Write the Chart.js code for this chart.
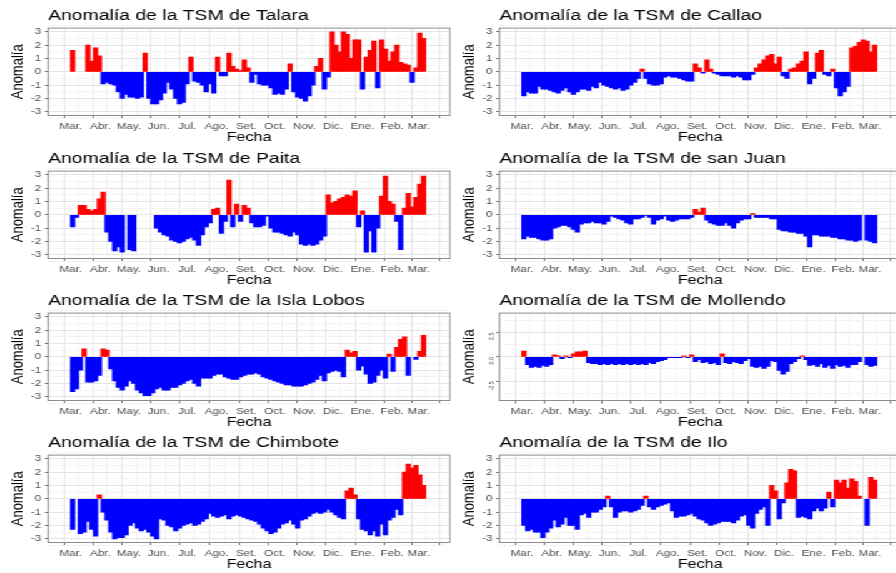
<!DOCTYPE html>
<html lang="es">
<head>
<meta charset="utf-8">
<title>Anomalía de la TSM</title>
<script src="https://cdn.jsdelivr.net/npm/chart.js@4.4.1/dist/chart.umd.min.js"></script>
<style>
    html, body { margin: 0; padding: 0; background: #fff; overflow: hidden; }
    body { width: 896px; height: 573px; position: relative; }
    /* la figura original viene estirada a lo ancho */
    #lienzo { position: absolute; left: 0; top: 0; width: 722px; height: 573px; transform: scaleX(1.25); transform-origin: 0 0; }
    .panel { position: absolute; width: 361px; height: 143px; }
</style>
</head>
<body>
<div id="lienzo"></div>
<script>
var fuente = "'Liberation Sans', Arial, Helvetica, sans-serif";
var rojo = '#ff0000';
var azul = '#0000ff';

// Eje X: días desde el 1 de marzo, un dato cada 4 días
var diasPorDato = 4;
var meses = ['Mar.', 'Abr.', 'May.', 'Jun.', 'Jul.', 'Ago.', 'Set.', 'Oct.', 'Nov.', 'Dic.', 'Ene.', 'Feb.', 'Mar.'];
var inicioMes = [0, 31, 61, 92, 122, 153, 184, 214, 245, 275, 306, 337, 365];

// Eje Y
var marcasY = [-3, -2, -1, 0, 1, 2, 3];
var marcasYMollendo = [-2.5, 0, 2.5];

var estaciones = ['Talara', 'Callao', 'Paita', 'san Juan', 'la Isla Lobos', 'Mollendo', 'Chimbote', 'Ilo'];

// Anomalías (°C)
var talara = [1.6, null, null, null, 2.0, 0.8, 1.8, 1.2, -0.9, -0.8,
    -0.9, -1.0, -1.5, -2.0, -1.7, -1.9, -1.9, -2.0, -1.9, 1.4,
    -2.0, -2.4, -2.4, -2.1, -1.6, -0.8, -1.3, -2.0, -2.4, -2.3,
    -0.9, 1.1, -0.7, -0.8, -1.0, -1.5, -0.9, -1.6, 1.1, -0.3,
    -0.3, 1.4, 0.4, 0.2, 0.1, 0.9, 0.3, -0.8, -0.2, -0.9,
    -1.0, -1.0, -1.2, -1.7, -1.6, -1.7, -1.3, 0.6, -1.5, -1.9,
    -2.0, -2.2, -1.8, -1.0, 0.4, 1.0, -1.3, -0.4, 3.0, 2.0,
    1.5, 3.0, 2.8, 1.0, 2.4, 2.4, -1.3, 1.1, 1.6, 2.3,
    -1.2, 2.4, 1.7, 0.8, 1.5, 2.0, 0.7, 0.6, 0.5, -0.8,
    0.3, 2.9, 2.5];
var callao = [-1.8, -1.5, -1.6, -1.6, -1.1, -1.3, -1.3, -1.4, -1.5, -1.6,
    -1.4, -1.2, -1.5, -1.7, -1.5, -1.3, -1.3, -1.4, -1.1, -1.2,
    -0.8, -1.0, -1.1, -1.2, -1.3, -1.2, -1.4, -1.3, -1.0, -0.8,
    -0.5, 0.2, -0.5, -0.9, -1.0, -1.0, -0.9, -0.4, -0.3, -0.4,
    -0.4, -0.5, -0.6, -0.7, -0.7, 0.6, 0.3, -0.1, 0.9, 0.2,
    -0.1, -0.2, -0.3, -0.3, -0.3, -0.4, -0.3, -0.4, -0.6, -0.6,
    -0.2, 0.3, 0.6, 0.9, 1.2, 1.3, 0.6, 1.1, -0.3, -0.5,
    0.2, 0.3, 0.6, 0.8, 1.5, -0.9, -0.5, 1.4, 1.6, -0.2,
    -0.3, 0.2, -1.2, -1.8, -1.5, -1.1, 1.8, 1.9, 2.2, 2.4,
    2.3, 1.5, 2.0];
var paita = [-0.9, -0.2, 0.7, 0.7, 0.4, 0.3, 0.4, 1.2, 1.7, -1.3,
    -2.0, -2.7, -2.4, -2.8, null, -2.6, -2.7, null, null, null,
    null, null, -1.0, -1.3, -1.5, -1.6, -1.9, -2.0, -2.1, -2.0,
    -1.8, -1.7, -1.9, -2.3, -1.5, -0.9, -0.6, 0.4, 0.5, -1.4,
    -0.5, 2.6, -0.9, 0.8, -0.5, 0.7, 0.5, -0.6, -0.9, -0.9,
    -0.8, -0.1, -1.0, -1.3, -1.3, -1.4, -1.5, -1.6, -1.3, -1.5,
    -2.2, -2.3, -2.2, -2.3, -2.2, -1.9, -1.6, 1.5, 0.9, 1.0,
    1.2, 1.3, 1.5, 1.4, 1.8, -0.9, 0.3, -2.8, -1.2, -2.8,
    -1.0, 1.4, 2.9, 1.0, 0.8, -0.5, -2.6, 0.5, 1.6, 0.6,
    1.3, 2.3, 2.9];
var sanJuan = [-1.8, -1.6, -1.7, -1.7, -1.8, -1.9, -1.9, -1.8, -1.0, -0.9,
    -0.8, -0.8, -0.9, -1.1, -1.3, -0.7, -0.6, -0.6, -0.5, -0.6,
    -0.6, -0.7, -0.5, -0.1, -0.2, -0.3, -0.4, -0.6, -0.7, -0.3,
    -0.3, -0.2, -0.05, -0.2, -0.7, -0.4, -0.3, -0.1, -0.4, -0.5,
    -0.4, -0.3, -0.3, -0.3, -0.2, 0.4, 0.2, 0.5, -0.4, -0.6,
    -0.7, -0.8, -0.8, -0.6, -0.8, -1.0, -0.6, -0.4, -0.3, -0.3,
    0.1, -0.2, -0.2, -0.2, -0.2, -0.3, -0.3, -1.1, -1.2, -1.2,
    -1.3, -1.3, -1.4, -1.4, -1.6, -2.4, -1.5, -1.5, -1.6, -1.6,
    -1.6, -1.7, -1.7, -1.8, -1.8, -1.9, -1.9, -2.0, -1.9, null,
    -1.9, -2.0, -2.1];
var islaLobos = [-2.6, -2.4, -1.0, 0.6, -1.9, -1.9, -1.8, -1.4, 0.6, 0.5,
    -0.9, -1.8, -2.3, -2.5, -2.2, -1.8, -2.0, -2.5, -2.7, -2.9,
    -2.9, -2.7, -2.4, -2.3, -2.5, -2.5, -2.3, -2.3, -2.1, -2.0,
    -1.8, -1.7, -2.0, -2.2, -1.6, -1.6, -1.6, -1.4, -1.3, -1.3,
    -1.5, -1.6, -1.7, -1.7, -1.5, -1.4, -1.3, -1.3, -1.2, -1.3,
    -1.5, -1.6, -1.7, -1.8, -1.9, -2.0, -2.1, -2.1, -2.2, -2.2,
    -2.2, -2.1, -2.0, -1.9, -1.7, -1.4, -1.8, -1.2, -1.1, -1.0,
    -1.1, -1.5, 0.5, 0.3, 0.4, -1.0, -0.7, -1.3, -2.0, -1.9,
    -1.4, -1.0, -1.6, 0.2, -1.1, 0.7, 1.3, 1.5, -1.4, null,
    -0.2, 0.4, 1.6];
var mollendo = [0.6, -0.8, -1.1, -1.0, -1.1, -0.9, -1.0, -0.8, 0.2, 0.1,
    -0.2, 0.1, -0.1, 0.3, 0.5, 0.5, 0.6, -0.6, -0.7, -0.7,
    -0.8, -0.7, -0.8, -0.7, -0.8, -0.7, -0.8, -0.7, -0.8, -0.7,
    -0.8, -0.7, -0.8, -0.6, -0.7, -0.5, -0.4, -0.3, -0.1, -0.1,
    -0.1, -0.1, 0.1, -0.1, 0.2, -0.5, -0.3, -0.6, -0.5, -0.7,
    -0.6, -0.8, 0.3, -0.6, -0.7, -0.5, -0.6, -0.7, -0.4, -0.2,
    -1.0, -1.1, -1.0, -1.2, -1.0, -0.4, -0.5, -1.4, -1.8, -1.5,
    -0.7, -0.5, -0.2, 0.1, -0.3, -0.9, -0.8, -1.0, -0.7, -1.1,
    -0.9, -1.2, -0.8, -1.0, -0.9, -1.1, -0.8, -0.8, -0.5, null,
    -0.8, -1.0, -0.9];
var chimbote = [-2.3, null, -2.6, -2.5, -1.7, -2.3, -2.8, 0.3, -1.0, -1.6,
    -2.5, -3.0, -2.9, -2.9, -2.7, -2.0, -1.8, -2.2, -2.4, -2.3,
    -2.5, -2.8, -3.0, -1.5, -1.6, -2.0, -2.1, -2.4, -2.2, -2.0,
    -1.9, -1.8, -2.0, -1.9, -1.7, -1.5, -1.1, -1.3, -1.4, -1.3,
    -1.2, -1.5, -1.3, -1.2, -1.3, -1.4, -1.5, -1.6, -1.7, -1.9,
    -2.2, -2.4, -2.6, -2.5, -2.2, -1.9, -1.8, -1.6, -1.9, -2.2,
    -1.6, -1.5, -1.3, -1.1, -1.0, -1.1, -1.0, -0.8, -1.0, -1.2,
    -1.4, -1.5, 0.6, 0.8, 0.3, -1.5, -2.3, -2.4, -2.7, -2.4,
    -2.8, -1.9, -2.7, -1.6, -1.4, -0.8, -1.2, 2.0, 2.6, 2.3,
    2.5, 1.8, 1.0];
var ilo = [-2.0, -2.4, -2.3, -2.5, -2.5, -2.9, -2.5, -2.2, -1.6, -2.1,
    -1.9, -1.4, -2.0, -2.0, -2.3, -1.2, -1.1, -1.4, -1.0, -1.0,
    -0.8, -0.6, 0.2, -0.6, -1.4, -1.0, -0.9, -0.9, -1.0, -0.9,
    -0.8, -0.5, 0.2, -0.6, -0.8, -0.6, -0.5, -0.4, -0.3, -0.9,
    -1.4, -1.3, -1.3, -1.2, -1.1, -1.3, -1.5, -1.6, -1.8, -2.0,
    -1.9, -1.8, -1.7, -1.7, -1.7, -1.8, -1.6, -1.3, -1.2, -2.0,
    -2.2, -1.1, -0.8, -0.6, -2.0, 1.0, 0.6, -1.5, -0.3, 1.2,
    2.2, 2.1, -1.4, -1.3, -1.4, -1.5, -0.9, -0.7, -0.9, -0.7,
    0.5, -0.6, 1.4, 1.2, 1.4, 0.8, 1.5, 1.3, 0.2, null,
    -2.0, 1.6, 1.4];

var datos = [talara, callao, paita, sanJuan, islaLobos, mollendo, chimbote, ilo];

// posición de cada fila de paneles (px)
var filas = [0, 143, 285, 427];

Chart.defaults.font.family = fuente;

// líneas de rejilla: mayores en el inicio de mes, menores a mitad de mes
function rejillaX() {
    var t = [{ value: -14.5, menor: true }];
    for (var i = 0; i < inicioMes.length; i++) {
        t.push({ value: inicioMes[i], menor: false });
        var fin = i < inicioMes.length - 1 ? inicioMes[i + 1] : 394;
        t.push({ value: (inicioMes[i] + fin) / 2, menor: true });
    }
    return t;
}

function rejillaY(marcas) {
    var t = [];
    var paso = marcas[1] - marcas[0];
    for (var i = 0; i < marcas.length; i++) {
        t.push({ value: marcas[i], menor: false });
        t.push({ value: marcas[i] + paso / 2, menor: true });
    }
    t.unshift({ value: marcas[0] - paso / 2, menor: true });
    return t;
}

function colorRejilla(ctx) {
    return ctx.tick && ctx.tick.menor ? '#f3f3f3' : '#e4e4e4';
}
function colorMarca(ctx) {
    return ctx.tick && ctx.tick.menor ? 'rgba(0,0,0,0)' : '#6f6f6f';
}

// borde del panel (como theme_bw)
var marco = {
    id: 'marco',
    afterDatasetsDraw: function (chart) {
        var a = chart.chartArea;
        var ctx = chart.ctx;
        ctx.save();
        ctx.strokeStyle = '#8c8c8c';
        ctx.lineWidth = 1;
        ctx.strokeRect(a.left, a.top, a.right - a.left, a.bottom - a.top);
        ctx.restore();
    }
};

function crearPanel(k) {
    var esMollendo = estaciones[k] === 'Mollendo';
    var marcas = esMollendo ? marcasYMollendo : marcasY;
    var valores = datos[k];

    var div = document.createElement('div');
    div.className = 'panel';
    div.style.left = (k % 2) * 361 + 'px';
    div.style.top = filas[Math.floor(k / 2)] + 'px';
    var canvas = document.createElement('canvas');
    canvas.width = 361;
    canvas.height = 143;
    div.appendChild(canvas);
    document.getElementById('lienzo').appendChild(div);

    var puntos = valores.map(function (v, i) {
        return { x: i * diasPorDato + diasPorDato / 2, y: v };
    });

    var config = {
        type: 'bar',
        data: {
            datasets: [{
                data: puntos,
                backgroundColor: function (ctx) {
                    var v = ctx.raw ? ctx.raw.y : 0;
                    return v >= 0 ? rojo : azul;
                },
                borderWidth: 0,
                // un poco más ancho que el paso para que no queden rendijas
                barThickness: 3.6
            }]
        },
        options: {
            responsive: false,
            animation: false,
            events: [],
            layout: { padding: { left: 0, right: 1, top: 0, bottom: 0 } },
            plugins: {
                legend: { display: false },
                tooltip: { enabled: false },
                title: {
                    display: true,
                    text: 'Anomalía de la TSM de ' + estaciones[k],
                    align: 'start',
                    fullSize: false,
                    color: '#000',
                    font: { size: 15.5, weight: 'normal' },
                    padding: { top: 6.5, bottom: 3 }
                }
            },
            scales: {
                x: {
                    type: 'linear',
                    min: -16,
                    max: 390,
                    afterBuildTicks: function (s) { s.ticks = rejillaX(); },
                    afterFit: function (s) { s.height = 27.5; },
                    border: { display: false },
                    grid: { color: colorRejilla, tickColor: colorMarca, tickLength: 3, lineWidth: 1 },
                    ticks: {
                        autoSkip: false,
                        maxRotation: 0,
                        minRotation: 0,
                        padding: 2,
                        color: '#4d4d4d',
                        font: { size: 9.3 },
                        callback: function (v) {
                            var i = inicioMes.indexOf(v);
                            return i >= 0 ? meses[i] : '';
                        }
                    },
                    title: {
                        display: true,
                        text: 'Fecha',
                        color: '#000',
                        font: { size: 13 },
                        padding: { top: 0, bottom: -2 }
                    }
                },
                y: {
                    min: esMollendo ? -4.5 : -3.27,
                    max: esMollendo ? 4.5 : 3.27,
                    afterBuildTicks: function (s) { s.ticks = rejillaY(marcas); },
                    afterFit: function (s) { s.width = 38.4; },
                    border: { display: false },
                    grid: { color: colorRejilla, tickColor: colorMarca, tickLength: 2.5, lineWidth: 1 },
                    ticks: {
                        autoSkip: false,
                        padding: 3,
                        color: '#4d4d4d',
                        font: { size: esMollendo ? 5.5 : 9.3 },
                        minRotation: esMollendo ? 90 : 0,
                        maxRotation: esMollendo ? 90 : 0,
                        callback: function (v) {
                            if (marcas.indexOf(v) < 0) return '';
                            return esMollendo ? v.toFixed(1) : String(v);
                        }
                    },
                    title: {
                        display: true,
                        text: 'Anomalía',
                        color: '#000',
                        font: { size: 13 },
                        padding: { top: 7, bottom: 0 }
                    }
                }
            }
        },
        plugins: [marco]
    };
    return new Chart(canvas.getContext('2d'), config);
}

for (var k = 0; k < estaciones.length; k++) {
    crearPanel(k);
}
</script>
</body>
</html>
